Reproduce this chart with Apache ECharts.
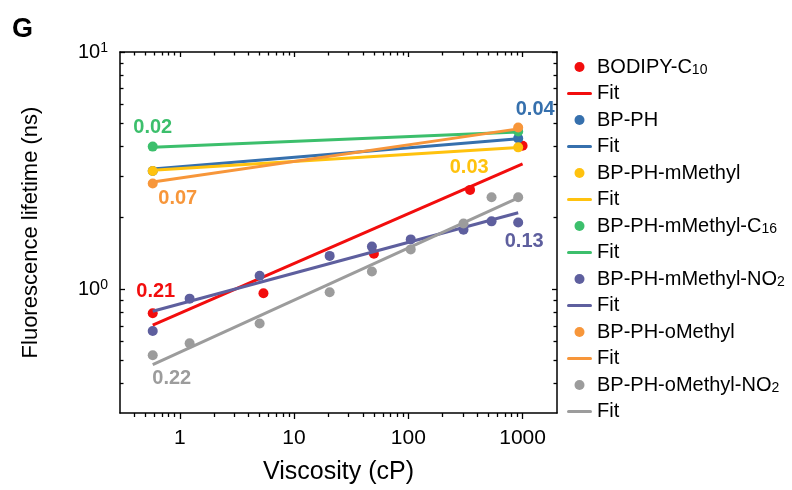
<!DOCTYPE html>
<html>
<head>
<meta charset="utf-8">
<script src="https://cdn.jsdelivr.net/npm/echarts@6/dist/echarts.min.js"></script>
<style>
  html, body { margin: 0; padding: 0; background: #ffffff; }
  #chart { width: 792px; height: 490px; }
</style>
</head>
<body>
<div id="chart"></div>
<script>
// Fluorescence lifetime vs. viscosity (log-log), one dot series + power-law fit per dye

// ---- measured lifetimes (ns) against viscosity (cP) ----
const bodipyX = [0.58, 5.4, 50, 347, 1000];
const bodipyY = [0.79, 0.96, 1.41, 2.62, 4.02];

const pairX = [0.58, 915];
const bpphY = [3.15, 4.32];
const mMethylY = [3.15, 3.96];
const mMethylC16Y = [3.99, 4.62];
const oMethylY = [2.79, 4.80];

const nitroX = [0.58, 1.22, 5.0, 20.5, 48, 105, 304, 535, 915];
const mMethylNO2Y = [0.665, 0.911, 1.137, 1.38, 1.51, 1.62, 1.78, 1.93, 1.91];
const oMethylNO2Y = [0.526, 0.59, 0.716, 0.969, 1.186, 1.47, 1.89, 2.44, 2.44];

// ---- power-law fits: tau = tauAt1 * eta^slope ----
const fitSlopes = [0.21, 0.04, 0.03, 0.02, 0.13, 0.07, 0.22];
const fitTauAt1 = [0.79, 3.28, 3.22, 4.01, 0.865, 2.94, 0.541];

// ---- axis ticks ----
const xMajorTicks = [1, 10, 100, 1000];
const xMinorTicks = [0.4, 0.5, 0.6, 0.7, 0.8, 0.9,
  2, 3, 4, 5, 6, 7, 8, 9, 20, 30, 40, 50, 60, 70, 80, 90,
  200, 300, 400, 500, 600, 700, 800, 900];
const yMajorTicks = [1, 10];
const yMinorTicks = [0.4, 0.5, 0.6, 0.7, 0.8, 0.9, 2, 3, 4, 5, 6, 7, 8, 9];

const FONT = "'Liberation Sans', Arial, sans-serif";

const dyes = [
  { name: 'BODIPY-C10', label: 'BODIPY-C{s|10}', color: '#f20d0d', x: bodipyX, y: bodipyY,
    tag: { end: 0, offset: [3, -34] } },
  { name: 'BP-PH', label: 'BP-PH', color: '#3670ad', x: pairX, y: bpphY,
    tag: { end: 1, offset: [17, -29] } },
  { name: 'BP-PH-mMethyl', label: 'BP-PH-mMethyl', color: '#ffc20e', x: pairX, y: mMethylY,
    tag: { end: 1, offset: [-49, 20] } },
  { name: 'BP-PH-mMethyl-C16', label: 'BP-PH-mMethyl-C{s|16}', color: '#3cbf6c', x: pairX, y: mMethylC16Y,
    tag: { end: 0, offset: [0, -20] } },
  { name: 'BP-PH-mMethyl-NO2', label: 'BP-PH-mMethyl-NO{s|2}', color: '#5e5f9e', x: nitroX, y: mMethylNO2Y,
    tag: { end: 1, offset: [6, 29] } },
  { name: 'BP-PH-oMethyl', label: 'BP-PH-oMethyl', color: '#f7963a', x: pairX, y: oMethylY,
    tag: { end: 0, offset: [25, 17] } },
  { name: 'BP-PH-oMethyl-NO2', label: 'BP-PH-oMethyl-NO{s|2}', color: '#9c9c9c', x: nitroX, y: oMethylNO2Y,
    tag: { end: 0, offset: [19, 14] } }
];

const series = [];
const legendData = [];
const tagData = [];
const legendText = {};

dyes.forEach((d, i) => {
  const slope = fitSlopes[i];
  const amp = fitTauAt1[i];
  const x0 = Math.min.apply(null, d.x);
  const x1 = Math.max.apply(null, d.x);
  const fitPts = [[x0, amp * Math.pow(x0, slope)], [x1, amp * Math.pow(x1, slope)]];
  const fitName = 'Fit:' + d.name;

  series.push({
    name: fitName,
    type: 'line',
    data: fitPts,
    symbol: 'none',
    showSymbol: false,
    color: d.color,
    lineStyle: { color: d.color, width: 3 },
    z: 2 + i * 2,
    silent: true,
    animation: false
  });
  series.push({
    name: d.name,
    type: 'scatter',
    data: d.x.map((v, k) => [v, d.y[k]]),
    symbol: 'circle',
    symbolSize: 10,
    color: d.color,
    itemStyle: { color: d.color, opacity: 1 },
    z: 3 + i * 2,
    silent: true,
    animation: false
  });

  const p = fitPts[d.tag.end];
  tagData.push({
    value: p,
    label: {
      show: true,
      position: 'inside',
      offset: d.tag.offset,
      formatter: slope.toFixed(2),
      color: d.color,
      opacity: 1,
      fontFamily: FONT,
      fontWeight: 'bold',
      fontSize: 20
    }
  });

  legendData.push({ name: d.name, icon: 'circle' });
  legendData.push({ name: fitName, icon: 'path://M1.5,0 L23.5,0 A1.5,1.5 0 0 1 23.5,3 L1.5,3 A1.5,1.5 0 0 1 1.5,0 Z' });
  legendText[d.name] = d.label;
  legendText[fitName] = 'Fit';
});

// slope annotations next to each fit
series.push({
  name: 'slopes',
  type: 'scatter',
  data: tagData,
  symbolSize: 1,
  itemStyle: { color: 'rgba(255,255,255,0)', opacity: 1 },
  z: 30,
  silent: true,
  animation: false
});

const axisLineStyle = { color: '#000000', width: 1.5 };

function makeAxis(kind, position, ticks, tickLen, inside, withLine, extra) {
  const base = {
    type: 'log',
    logBase: 10,
    min: 0.3,
    max: kind === 'x' ? 2000 : 10,
    position: position,
    gridIndex: 0,
    axisLine: { show: withLine, onZero: false, lineStyle: axisLineStyle },
    axisTick: { show: true, inside: inside, length: tickLen, customValues: ticks,
      lineStyle: { color: '#000000', width: 1.3 } },
    minorTick: { show: false },
    axisLabel: { show: false },
    splitLine: { show: false },
    minorSplitLine: { show: false }
  };
  return Object.assign(base, extra || {});
}

const xAxes = [
  makeAxis('x', 'bottom', xMajorTicks, 6, false, true, {
    name: 'Viscosity (cP)',
    nameLocation: 'middle',
    nameGap: 47,
    nameTextStyle: { fontFamily: FONT, fontSize: 25, color: '#000000' },
    axisLabel: {
      show: true, customValues: xMajorTicks, margin: 15,
      fontFamily: FONT, fontSize: 21, color: '#000000',
      formatter: v => String(Math.round(v))
    }
  }),
  makeAxis('x', 'bottom', xMinorTicks, 4, false, false),
  makeAxis('x', 'top', xMajorTicks, 5, true, true),
  makeAxis('x', 'top', xMinorTicks, 3.5, true, false)
];

const yAxes = [
  makeAxis('y', 'left', yMajorTicks, 5, true, true, {
    name: 'Fluorescence lifetime (ns)',
    nameLocation: 'middle',
    nameRotate: 90,
    nameGap: 78,
    nameTextStyle: { fontFamily: FONT, fontSize: 22, color: '#000000' },
    axisLabel: {
      show: true, customValues: yMajorTicks, margin: 12,
      fontFamily: FONT, color: '#000000',
      formatter: v => '{b|10}{p|' + Math.round(Math.log10(v)) + '}',
      rich: {
        b: { fontFamily: FONT, fontSize: 20, lineHeight: 22, color: '#000000' },
        p: { fontFamily: FONT, fontSize: 14, lineHeight: 14, verticalAlign: 'top', color: '#000000' }
      }
    }
  }),
  makeAxis('y', 'left', yMinorTicks, 3.5, true, false),
  makeAxis('y', 'right', yMajorTicks, 5, true, true),
  makeAxis('y', 'right', yMinorTicks, 3.5, true, false)
];

const chart = echarts.init(document.getElementById('chart'), null, { renderer: 'canvas' });

chart.setOption({
  animation: false,
  backgroundColor: '#ffffff',
  title: {
    text: 'G',
    left: 12,
    top: 16,
    padding: 0,
    textStyle: { fontFamily: FONT, fontSize: 27, fontWeight: 'bold', color: '#000000' }
  },
  grid: { left: 120, right: 235, top: 52, bottom: 73, containLabel: false },
  xAxis: xAxes,
  yAxis: yAxes,
  legend: {
    show: true,
    orient: 'vertical',
    left: 567,
    top: 57,
    padding: 0,
    itemWidth: 25,
    itemHeight: 10,
    itemGap: 6.5,
    selectedMode: false,
    data: legendData,
    formatter: name => legendText[name],
    textStyle: {
      fontFamily: FONT, fontSize: 20, color: '#000000', lineHeight: 20,
      rich: {
        s: { fontFamily: FONT, fontSize: 14, lineHeight: 14, verticalAlign: 'bottom', color: '#000000' }
      }
    }
  },
  series: series
});
</script>
</body>
</html>
